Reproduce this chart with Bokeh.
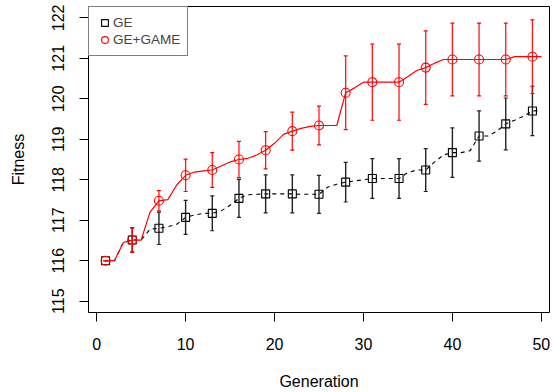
from bokeh.plotting import figure
from bokeh.models import Range1d, FixedTicker, Legend, LegendItem
from bokeh.embed import file_html
from bokeh.resources import INLINE

# ---- data ----
generation = list(range(1, 51))

ge_mean = [116.00, 116.00, 116.45, 116.51, 116.51, 116.78, 116.80, 116.84, 116.90, 117.07,
           117.13, 117.17, 117.17, 117.23, 117.37, 117.54, 117.63, 117.64, 117.65, 117.65,
           117.65, 117.65, 117.64, 117.64, 117.64, 117.82, 117.89, 117.94, 117.97, 118.00,
           118.03, 118.03, 118.03, 118.03, 118.18, 118.24, 118.24, 118.44, 118.61, 118.67,
           118.67, 118.72, 119.08, 119.08, 119.20, 119.38, 119.47, 119.57, 119.70, 119.71]

game_mean = [116.00, 116.00, 116.45, 116.51, 116.51, 117.20, 117.48, 117.51, 117.87, 118.11,
             118.19, 118.22, 118.24, 118.34, 118.44, 118.50, 118.53, 118.61, 118.73, 118.90,
             119.12, 119.20, 119.27, 119.32, 119.34, 119.34, 119.34, 120.15, 120.27, 120.41,
             120.41, 120.41, 120.41, 120.41, 120.55, 120.70, 120.77, 120.88, 120.97, 120.97,
             120.97, 120.97, 120.97, 120.97, 120.97, 120.97, 121.04, 121.04, 121.04, 121.04]

marker_generation = [1, 4, 7, 10, 13, 16, 19, 22, 25, 28, 31, 34, 37, 40, 43, 46, 49]
ge_sd = [0.0, 0.30, 0.40, 0.42, 0.43, 0.47, 0.47, 0.47, 0.47, 0.49, 0.49, 0.49, 0.53,
         0.61, 0.62, 0.64, 0.61]
game_sd = [0.0, 0.30, 0.25, 0.40, 0.43, 0.45, 0.46, 0.47, 0.48, 0.91, 0.94, 0.94, 0.91,
           0.90, 0.90, 0.90, 0.91]

x_ticks = [0, 10, 20, 30, 40, 50]
y_ticks = [115, 116, 117, 118, 119, 120, 121, 122]

FONT = "Liberation Sans"

idx = [generation.index(g) for g in marker_generation]
ge_m = [ge_mean[i] for i in idx]
game_m = [game_mean[i] for i in idx]
ge_lo = [m - s for m, s in zip(ge_m, ge_sd)]
ge_hi = [m + s for m, s in zip(ge_m, ge_sd)]
game_lo = [m - s for m, s in zip(game_m, game_sd)]
game_hi = [m + s for m, s in zip(game_m, game_sd)]

p = figure(width=554, height=392, output_backend="svg", toolbar_location=None,
           x_range=Range1d(-0.92, 50.92), y_range=Range1d(114.72, 122.28),
           min_border_left=88, min_border_right=5, min_border_top=6, min_border_bottom=80)

p.grid.visible = False
p.outline_line_color = "black"
p.outline_line_width = 1
p.background_fill_color = "white"
p.border_fill_color = "white"

for ax in (p.xaxis[0], p.yaxis[0]):
    ax.axis_line_color = None
    ax.major_tick_in = 0
    ax.major_tick_out = 9
    ax.major_tick_line_color = "black"
    ax.minor_tick_line_color = None
    ax.major_label_text_font = FONT
    ax.major_label_text_font_size = "16px"
    ax.major_label_text_color = "black"
    ax.axis_label_text_font = FONT
    ax.axis_label_text_font_size = "16px"
    ax.axis_label_text_font_style = "normal"
    ax.axis_label_text_color = "black"

p.xaxis.ticker = FixedTicker(ticks=x_ticks)
p.yaxis.ticker = FixedTicker(ticks=y_ticks)
p.xaxis.axis_label = "Generation"
p.yaxis.axis_label = "Fitness"
p.xaxis.major_label_standoff = 16
p.xaxis.axis_label_standoff = 20
p.yaxis.major_label_standoff = 15
p.yaxis.axis_label_standoff = 23
p.yaxis.major_label_orientation = "vertical"

# GE (black, dashed)
p.line(generation, ge_mean, line_color="black", line_dash="4 4", line_width=1.1)
p.segment(x0=marker_generation, y0=ge_lo, x1=marker_generation, y1=ge_hi,
          line_color="#222222", line_width=1.4)
p.scatter(marker_generation, ge_lo, marker="dash", size=4, line_color="#222222", line_width=1.2)
p.scatter(marker_generation, ge_hi, marker="dash", size=4, line_color="#222222", line_width=1.2)
sq = p.scatter(marker_generation, ge_m, marker="square", size=8, fill_color=None,
               line_color="black", line_width=1.1)

# GE+GAME (red, solid)
p.line(generation, game_mean, line_color="red", line_width=1.2)
p.segment(x0=marker_generation, y0=game_lo, x1=marker_generation, y1=game_hi,
          line_color="red", line_width=1.3, line_alpha=0.9)
p.scatter(marker_generation, game_lo, marker="dash", size=4, line_color="red", line_width=1.2)
p.scatter(marker_generation, game_hi, marker="dash", size=4, line_color="red", line_width=1.2)
ci = p.scatter(marker_generation, game_m, marker="circle", size=9, fill_color=None,
               line_color="red", line_width=1.1)

legend = Legend(items=[LegendItem(label="GE", renderers=[sq]),
                       LegendItem(label="GE+GAME", renderers=[ci])],
                location="top_left", margin=0, padding=7, spacing=-2,
                glyph_width=17, glyph_height=17, label_height=17, label_standoff=0,
                label_text_font=FONT, label_text_font_size="13.5px",
                border_line_color="black", border_line_width=1,
                background_fill_color="white", background_fill_alpha=1)
p.add_layout(legend)

open("out.html", "w").write(file_html(p, INLINE))
